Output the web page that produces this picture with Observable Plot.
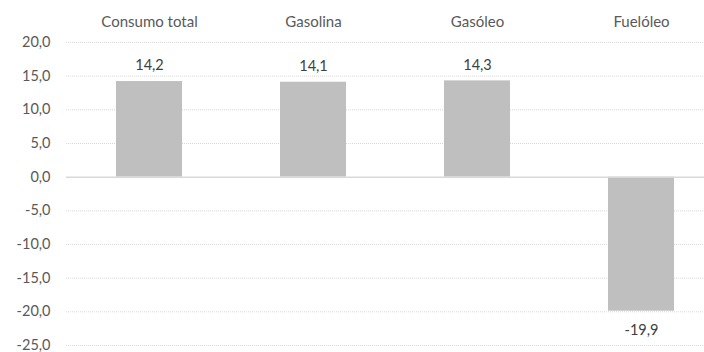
<!DOCTYPE html>
<html>
<head>
<meta charset="utf-8">
<script src="https://cdn.jsdelivr.net/npm/d3@7"></script>
<script src="https://cdn.jsdelivr.net/npm/@observablehq/plot@0.6"></script>
<style>
  html, body { margin: 0; padding: 0; background: #fff; }
  #chart svg { display: block; }
</style>
</head>
<body>
<div id="chart"></div>
<script>
const categories = ["Consumo total", "Gasolina", "Gasóleo", "Fuelóleo"];
const values = [14.2, 14.1, 14.3, -19.9];
const yTicks = [-25, -20, -15, -10, -5, 0, 5, 10, 15, 20];

const data = categories.map((c, i) => ({category: c, value: values[i]}));
const fmt = v => v.toFixed(1).replace(".", ",");
const font = "Lato, 'Open Sans', sans-serif";

const chart = Plot.plot({
  width: 704,
  height: 352,
  marginTop: 42,
  marginBottom: 7,
  marginLeft: 66,
  marginRight: 0,
  style: {fontFamily: font, fontSize: "14.5px", color: "#595959", background: "#fff"},
  x: {domain: categories, range: [66, 724], paddingInner: 0, paddingOuter: 0},
  y: {domain: [-25, 20]},
  marks: [
    Plot.ruleY(yTicks.filter(t => t !== 0), {stroke: "#d9d9d9", strokeWidth: 1, strokeDasharray: "1,1"}),
    Plot.barY(data, {x: "category", y: "value", fill: "#bfbfbf", insetLeft: 49, insetRight: 49}),
    Plot.ruleY([0], {stroke: "#d9d9d9", strokeWidth: 1.5}),
    Plot.axisY({ticks: yTicks, tickFormat: fmt, tickSize: 0, tickPadding: 16, fill: "#595959", label: null, fontSize: 14.5}),
    Plot.axisX({anchor: "top", tickSize: 0, tickPadding: 16, fill: "#595959", label: null, fontSize: 15}),
    Plot.text(data.filter(d => d.value >= 0), {x: "category", y: "value", text: d => fmt(d.value), dy: -16, fill: "#404040", fontSize: 14.5}),
    Plot.text(data.filter(d => d.value < 0), {x: "category", y: "value", text: d => fmt(d.value), dy: 19, fill: "#404040", fontSize: 14.5})
  ]
});
document.getElementById("chart").appendChild(chart);
</script>
</body>
</html>
